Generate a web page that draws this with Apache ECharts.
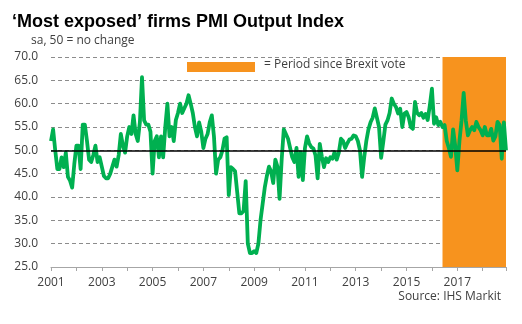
<!DOCTYPE html>
<html><head><meta charset="utf-8">
<script src="https://cdn.jsdelivr.net/npm/echarts@6/dist/echarts.min.js"></script>
<style>html,body{margin:0;padding:0;background:#fff}#c{width:522px;height:324px}</style>
</head><body><div id="c"></div>
<script>
const titleText = "‘Most exposed’ firms PMI Output Index";
const subtitleText = "sa, 50 = no change";
const legendText = "= Period since Brexit vote";
const sourceText = "Source: IHS Markit";
const startYear = 2001;
const endYear = 2018;
const yTicks = [25, 30, 35, 40, 45, 50, 55, 60, 65, 70];
const brexitStart = "2016-06";
const referenceLevel = 50;
const pmi2001 = [52, 54.5, 50, 46, 46, 48.5, 46.4, 49.5, 44.3, 43.5, 42, 47];
const pmi2002 = [51, 51, 46, 55.5, 55.5, 52, 48, 47.5, 49, 51, 47.5, 48.5];
const pmi2003 = [46.5, 44.5, 44, 44, 45, 46.5, 48, 46.5, 49, 53.5, 51, 49.5];
const pmi2004 = [53, 55, 53.5, 57.5, 53.5, 52, 56, 65.7, 56.4, 55.5, 55.5, 54];
const pmi2005 = [45, 52, 53, 48.5, 53, 48.5, 55, 60, 53, 55, 52, 56.5];
const pmi2006 = [58, 60, 58, 59, 60, 61.8, 60, 58, 55, 53, 56, 54];
const pmi2007 = [50.5, 52.5, 53.5, 56, 57.5, 53, 45, 48, 48.5, 50, 52.5, 52.8];
const pmi2008 = [40.4, 46.4, 46, 45.5, 41, 36.5, 36.5, 37, 43.4, 30, 28, 28];
const pmi2009 = [28.4, 28, 30, 35, 38.5, 42, 44.5, 46.5, 45.5, 43, 48, 46.5];
const pmi2010 = [39.6, 48, 54.5, 53.5, 52.5, 50.5, 48.5, 47.5, 50.5, 44.3, 49.6, 43.6];
const pmi2011 = [50.5, 53, 51.5, 50.7, 50.4, 48.9, 44, 51.4, 48.6, 46.4, 48.3, 47.5];
const pmi2012 = [48.5, 48.2, 49.6, 48, 49.5, 52.5, 52, 50.5, 51.5, 52.3, 52.5, 53.2];
const pmi2013 = [53, 52, 50, 44.3, 48.5, 52, 54.5, 56, 57, 59, 57, 55];
const pmi2014 = [48.4, 51.8, 55.5, 56.4, 58, 61.1, 60, 59.3, 57.9, 58.9, 55, 57.9];
const pmi2015 = [58.2, 57.1, 55, 54.6, 60.4, 58, 57.5, 58, 57, 57.8, 56.5, 59.6];
const pmi2016 = [63.2, 55.7, 57.1, 55.4, 56.1, 55, 55.4, 52, 50.5, 48.6, 54.5, 51];
const pmi2017 = [45.7, 52, 56.4, 62.3, 56.4, 53.2, 54.3, 55, 54.3, 56.1, 55, 54.3];
const pmi2018 = [53.2, 55, 53.2, 53.2, 54.6, 52.1, 53, 56.1, 55.4, 48.2, 56, 50];

const values = [].concat(pmi2001, pmi2002, pmi2003, pmi2004, pmi2005, pmi2006, pmi2007, pmi2008,
  pmi2009, pmi2010, pmi2011, pmi2012, pmi2013, pmi2014, pmi2015, pmi2016, pmi2017, pmi2018);
const months = [];
for (let y = startYear; y <= endYear; y++) for (let m = 1; m <= 12; m++) months.push(y + '-' + String(m).padStart(2, '0'));

const FONT = 'Open Sans';
const chart = echarts.init(document.getElementById('c'), null, {renderer: 'canvas'});
chart.setOption({
  animation: false,
  backgroundColor: '#ffffff',
  title: {text: titleText, left: 7, top: 8,
    textStyle: {fontFamily: 'Liberation Sans', fontWeight: 'bold', fontSize: 18, color: '#000'}},
  grid: {left: 51, right: 16, top: 57, bottom: 57},
  xAxis: {
    type: 'category', data: months, boundaryGap: false,
    axisLine: {show: true, lineStyle: {color: '#a6a6a6', width: 1}},
    axisTick: {show: true, length: 4, lineStyle: {color: '#a6a6a6'},
      interval: (i) => i % 12 === 0 || i === months.length - 1},
    axisLabel: {interval: (i) => i % 24 === 0, formatter: (v) => v.slice(0, 4),
      fontFamily: FONT, fontSize: 12, color: '#404040', margin: 10},
    splitLine: {show: false}
  },
  yAxis: {
    type: 'value', min: yTicks[0], max: yTicks[yTicks.length - 1], interval: 5,
    axisLine: {show: false}, axisTick: {show: false},
    axisLabel: {formatter: (v) => v.toFixed(1), fontFamily: FONT, fontSize: 12, color: '#404040', margin: 13},
    splitLine: {show: true, lineStyle: {color: '#8c8c8c', width: 1, type: [4, 3]}}
  },
  series: [
    {type: 'line', data: [], z: 1, silent: true,
      markArea: {silent: true, itemStyle: {color: '#F7931E', opacity: 1},
        data: [[{xAxis: brexitStart}, {xAxis: months[months.length - 1]}]]}},
    {type: 'line', data: [], z: 2, silent: true,
      markLine: {silent: true, symbol: 'none', label: {show: false},
        lineStyle: {color: '#000', width: 1.5, type: 'solid'},
        data: [{yAxis: referenceLevel}]}},
    {type: 'line', data: values, z: 3, showSymbol: false, symbol: 'none',
      lineStyle: {color: '#00B050', width: 3.8, join: 'round'}}
  ],
  graphic: [
    {type: 'text', left: 31, top: 35, style: {text: subtitleText, font: '12px "Open Sans"', fill: '#404040'}},
    {type: 'rect', shape: {x: 187, y: 62, width: 68, height: 10}, style: {fill: '#F7931E'}},
    {type: 'text', left: 264, top: 59, style: {text: legendText, font: '12px "Open Sans"', fill: '#404040'}},
    {type: 'text', right: 21, top: 291, style: {text: sourceText, font: '12px "Open Sans"', fill: '#404040'}}
  ]
});
</script></body></html>
